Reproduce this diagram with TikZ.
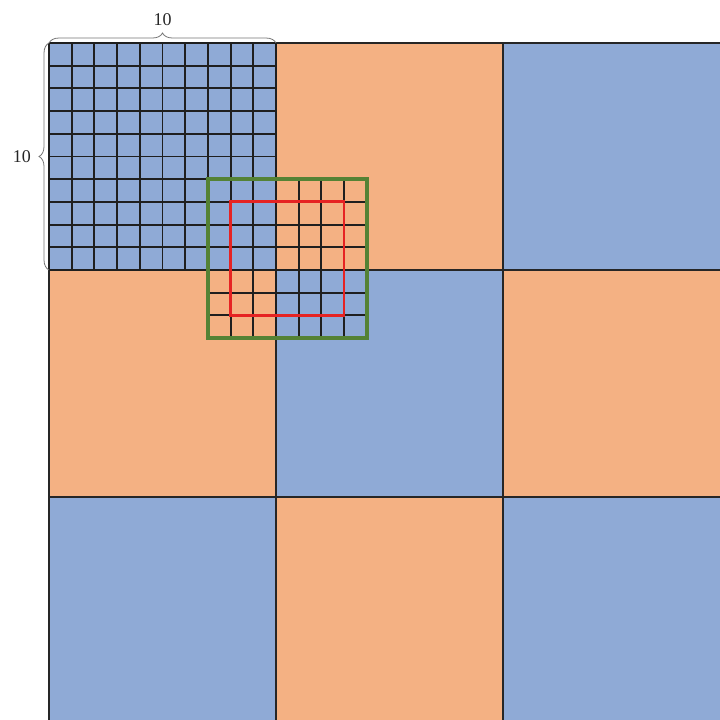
\documentclass[tikz,border=0pt]{standalone}
\usepackage{fontspec}
\setmainfont{Liberation Serif}
\usetikzlibrary{decorations.pathreplacing}
\definecolor{cellblue}{RGB}{143,170,214}
\definecolor{cellorange}{RGB}{244,177,131}
\definecolor{winGreen}{RGB}{84,130,53}
\definecolor{winRed}{RGB}{230,35,35}

\begin{document}
\begin{tikzpicture}[
  x=0.8cm, y=0.8cm,
  block/.style={draw=black!85, line width=1.2pt},
  fine/.style={draw=black!88, line width=1.9pt, step=1},
  brc/.style={decorate, decoration={brace, amplitude=10pt}, draw=black!55, line width=0.8pt},
  every node/.style={font=\fontsize{18}{20}\selectfont, text=black!85, inner sep=0pt}
]
\useasboundingbox (-2.159,1.894) rectangle (29.56,-29.82);
\foreach \i in {0,1,2}
  \foreach \j in {0,1,2} {
    \pgfmathtruncatemacro{\odd}{mod(\i+\j,2)}
    \ifnum\odd=0 \def\fillc{cellblue}\else\def\fillc{cellorange}\fi
    \fill[\fillc] (10*\i,-10*\j) rectangle ++(10,-10);
  }
\draw[block] (0,0) grid[step=10] (30,-30);
\draw[fine] (0,0) grid (10,-10);
\draw[fine] (7,-6) grid (14,-13);
\draw[winRed, line width=2.8pt] (8,-7) rectangle (13,-12);
\draw[winGreen, line width=3.5pt] (7,-6) rectangle (14,-13);
\draw[brc] (0,0) -- (10,0);
\draw[brc] (0,-10) -- (0,0);
\node (topcount) at (5,1.02) {10};
\node (sidecount) at (-1.2,-5) {10};
\end{tikzpicture}
\end{document}
